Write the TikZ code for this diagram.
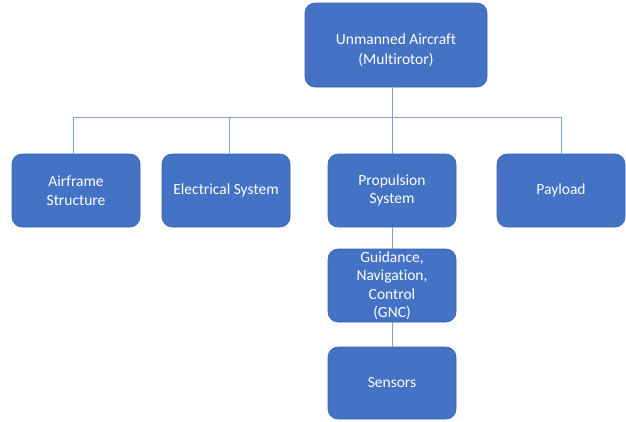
\documentclass[tikz,border=0pt]{standalone}
\usepackage{fontspec}
\setmainfont[Ligatures=NoCommon]{Carlito}
\definecolor{boxblue}{HTML}{4472C4}
\definecolor{boxedge}{HTML}{3A63AD}
\definecolor{linkblue}{HTML}{7F9ED8}
\begin{document}
\begin{tikzpicture}[x=1pt,y=-1pt,
  blk/.style={draw=boxedge, line width=0.6pt, fill=boxblue, rounded corners=10pt,
    text=white, align=center, font=\fontsize{15.5}{18.5}\selectfont, inner sep=0pt},
  link/.style={draw=linkblue, line width=0.8pt}]
\useasboundingbox (0,0) rectangle (626,421);
\node[blk, minimum width=182pt, minimum height=84pt] (top) at (396,45) {\rule{0pt}{4pt}\\[-2pt]Unmanned Aircraft\\[1.5pt](Multirotor)};
\node[blk, minimum width=128pt, minimum height=73pt] (air) at (76,190.5) {Airframe\\Structure};
\node[blk, minimum width=128pt, minimum height=73pt] (ele) at (226,190.5) {Electrical System};
\node[blk, minimum width=128pt, minimum height=73pt] (pro) at (392,190.5) {Propulsion\\System};
\node[blk, minimum width=128pt, minimum height=73pt] (pay) at (561,190.5) {Payload};
\node[blk, minimum width=128pt, minimum height=73pt] (gnc) at (392,285.5) {Guidance,\\Navigation,\\Control\\(GNC)};
\node[blk, minimum width=128pt, minimum height=72pt] (sen) at (392,383) {Sensors};
\coordinate (bus) at (392,117);
\draw[link] (top.south -| bus) -- (bus);
\draw[link] (air.north -| 73,0) |- (bus);
\draw[link] (ele.north -| 229,0) |- (bus);
\draw[link] (pro.north) -- (bus);
\draw[link] (pay.north) |- (bus);
\draw[link] (pro.south) -- (gnc.north);
\draw[link] (gnc.south) -- (sen.north);
\end{tikzpicture}
\end{document}
